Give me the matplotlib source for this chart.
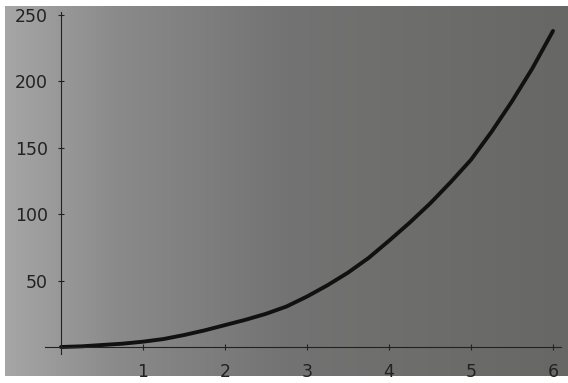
import matplotlib.pyplot as plt
from matplotlib.colors import LinearSegmentedColormap
import numpy as np

# values
x = [0, 0.25, 0.5, 0.75, 1, 1.25, 1.5, 1.75, 2, 2.25, 2.5, 2.75, 3,
     3.25, 3.5, 3.75, 4, 4.25, 4.5, 4.75, 5, 5.25, 5.5, 5.75, 6]
y = [0, 0.5, 1.5, 2.5, 4, 6, 9, 12.5, 16.5, 20.5, 25, 30.5, 38,
     46.5, 56, 67, 80, 93.5, 108, 124, 141, 162, 185, 210, 238]
xticks = [1, 2, 3, 4, 5, 6]
yticks = [50, 100, 150, 200, 250]

W, H = 568, 383
fig = plt.figure(figsize=(W / 100, H / 100), dpi=100)
fig.patch.set_facecolor('white')

# gray scanned-paper background, lighter on the left, darker on the right
paper = LinearSegmentedColormap.from_list(
    'paper', [(0, '#a6a6a6'), (0.2, '#8a8a8a'), (0.5, '#737373'), (1, '#676765')])
bg = fig.add_axes([5 / W, 7 / H, 563 / W, 370 / H])
grad = np.linspace(0, 1, 256)
bg.imshow(np.vstack([grad, grad]), aspect='auto', cmap=paper,
          vmin=0, vmax=1, extent=[0, 1, 0, 1])
bg.set_axis_off()

# data axes placed so the origin sits where it does in the scan
x0, x1 = -0.2, 6.1
y0, y1 = -5, 252
px_left = 61 + 82 * x0
px_right = 61 + 82 * x1
py_bottom = 347 - 1.328 * y0
py_top = 347 - 1.328 * y1
ax = fig.add_axes([px_left / W, (H - py_bottom) / H,
                   (px_right - px_left) / W, (py_bottom - py_top) / H])
ax.patch.set_alpha(0)

ax.plot(x, y, color='#111111', linewidth=2.8, solid_capstyle='round')

ax.set_xlim(x0, x1)
ax.set_ylim(y0, y1)
for s in ['top', 'right']:
    ax.spines[s].set_visible(False)
for s in ['left', 'bottom']:
    ax.spines[s].set_position(('data', 0))
    ax.spines[s].set_linewidth(0.8)
    ax.spines[s].set_color('#222222')

ax.set_xticks(xticks)
ax.set_yticks(yticks)
ax.tick_params(axis='x', direction='inout', length=5, width=0.8, pad=9,
               labelsize=12.5, colors='#222222')
ax.tick_params(axis='y', direction='inout', length=5, width=0.8, pad=7,
               labelsize=12.5, colors='#222222')

plt.savefig('out.png', dpi=100)
